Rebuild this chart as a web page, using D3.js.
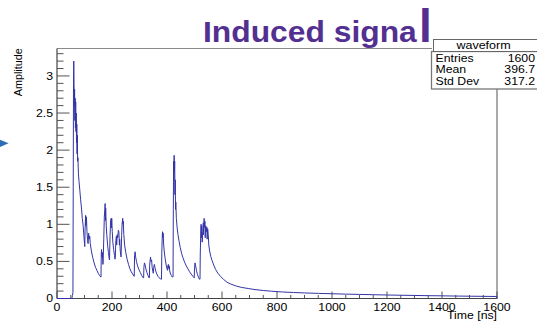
<!DOCTYPE html>
<html>
<head>
<meta charset="utf-8">
<script src="https://cdn.jsdelivr.net/npm/d3@7"></script>
<style>
  html, body { margin: 0; padding: 0; background: #fff; }
  svg { display: block; }
  text { font-family: "Liberation Sans", Arial, Helvetica, sans-serif; }
</style>
</head>
<body>
<svg id="chart" width="537" height="321"></svg>
<script>
// ---- data ----
const times = [0,54,56,58,59,60,61,62,63,64,65,66,67,68,69,70,71,72,73,74,75,76,78,80,83,86,89,92,95,98,100,101,102,104,105,107,109,111,113,115,117,119,121,125,130,135,140,145,150,155,159,160,161,162,164,165,167,168,170,172,174,175,176,177,179,181,184,187,190,191,193,195,197,198,199,201,203,206,209,211,212,214,216,217,219,221,223,225,227,228,230,232,233,235,237,239,240,241,243,246,250,255,260,265,270,275,280,281,282,284,286,289,293,298,303,308,313,315,316,318,320,323,327,331,334,336,337,340,342,344,346,349,350,351,354,356,359,363,367,371,375,378,380,381,383,384,385,386,388,391,394,397,400,402,403,405,407,408,410,413,416,419,421,422,423,424,425,426,427,428,429,430,431,432,434,437,440,444,448,453,458,464,470,476,482,488,494,498,499,500,502,504,507,511,515,518,520,521,523,524,525,526,528,530,532,533,535,536,538,539,541,543,545,546,548,550,552,555,559,564,570,577,585,594,605,618,632,650,670,695,720,750,780,820,860,900,950,1000,1050,1100,1150,1200,1250,1300,1350,1400,1450,1500,1550,1599,1600];
const amplitudes = [0,0,0.04,0.08,1.5,2.9,3.2,2.85,2.6,2.82,2.4,2.7,2.3,2.65,2.25,2.5,2.1,2.35,1.95,2.2,1.85,1.9,1.68,1.58,1.46,1.33,1.22,1.08,0.98,0.84,0.74,0.70,0.92,1.12,0.98,1.10,0.90,0.80,0.74,0.88,0.80,0.84,0.74,0.64,0.55,0.48,0.42,0.38,0.34,0.31,0.29,0.29,0.60,0.66,0.56,0.62,0.46,0.52,0.80,1.10,1.20,1.28,1.05,1.22,0.98,0.86,0.72,0.62,0.53,0.52,0.85,1.05,1.08,0.95,1.08,0.90,0.76,0.66,0.58,0.53,0.55,0.78,0.84,0.72,0.86,0.82,0.92,0.90,0.72,0.80,0.64,0.58,0.56,0.85,1.02,1.08,1.0,1.04,0.86,0.72,0.62,0.53,0.46,0.40,0.36,0.33,0.30,0.30,0.58,0.63,0.56,0.50,0.44,0.39,0.35,0.31,0.28,0.28,0.42,0.48,0.46,0.40,0.35,0.31,0.28,0.28,0.45,0.56,0.50,0.52,0.42,0.36,0.34,0.40,0.46,0.42,0.37,0.33,0.30,0.28,0.27,0.26,0.26,0.60,0.86,0.90,0.82,0.88,0.72,0.60,0.52,0.45,0.40,0.38,0.44,0.46,0.40,0.44,0.37,0.33,0.31,0.29,0.29,0.29,1.2,1.85,1.6,1.93,1.7,1.85,1.4,1.6,1.2,1.3,1.08,0.95,0.86,0.77,0.69,0.61,0.55,0.49,0.44,0.40,0.36,0.33,0.30,0.28,0.28,0.40,0.48,0.44,0.38,0.32,0.28,0.26,0.26,0.60,0.92,1.0,0.82,0.98,0.76,0.90,1.02,0.86,1.08,0.96,1.04,0.82,0.98,0.90,0.96,0.80,0.94,0.86,0.72,0.64,0.57,0.51,0.45,0.39,0.34,0.30,0.26,0.22,0.195,0.17,0.15,0.135,0.12,0.108,0.098,0.088,0.081,0.075,0.069,0.064,0.059,0.055,0.051,0.047,0.044,0.041,0.038,0.036,0.033,0.031,0.029,0.027,0];

const xTickValues = [0,200,400,600,800,1000,1200,1400,1600];
const yTickValues = [0,0.5,1,1.5,2,2.5,3];
const xDomain = [0,1600];
const yDomain = [0,3.37];

const titleText = "Induced signa";
const titleTail = "l";
const xTitle = "Time [ns]";
const yTitle = "Amplitude";
const statsName = "waveform";
const statsLabels = ["Entries","Mean","Std Dev"];
const statsValues = ["1600","396.7","317.2"];

// ---- layout ----
const svg = d3.select("#chart");
const L = 57, R = 497, T = 48.5, B = 298.5;
const SX = 1.18; // horizontal stretch of the chart lettering
const x = d3.scaleLinear().domain(xDomain).range([L, R]);
const y = d3.scaleLinear().domain(yDomain).range([B, T]);

function sText(g, px, py, str, size, anchor, fill) {
  return g.append("text")
    .attr("transform", `translate(${px},${py}) scale(${SX},1)`)
    .attr("text-anchor", anchor)
    .attr("font-size", size)
    .attr("fill", fill || "#000")
    .text(str);
}

// blue arrow marker at left edge
svg.append("path")
  .attr("d", "M-1,139.3 L8.6,143.3 L-1,147.3 Z")
  .attr("fill", "#2f6db5");

// frame top & right
svg.append("line").attr("x1", L).attr("x2", 432).attr("y1", T).attr("y2", T)
  .attr("stroke", "#8a8a8a").attr("stroke-width", 1);
svg.append("line").attr("x1", R).attr("x2", R).attr("y1", T).attr("y2", B)
  .attr("stroke", "#555").attr("stroke-width", 1);

// y axis
const gy = svg.append("g");
gy.append("line").attr("x1", L).attr("x2", L).attr("y1", T).attr("y2", B)
  .attr("stroke", "#444").attr("stroke-width", 1.2);
const yMinor = d3.range(0, 34).map(i => i / 10).filter(v => v <= yDomain[1]);
gy.selectAll("line.ymin").data(yMinor).join("line")
  .attr("x1", L).attr("x2", d => L + (yTickValues.some(t => Math.abs(t - d) < 1e-6) ? 12.5 : 6.5))
  .attr("y1", d => y(d)).attr("y2", d => y(d))
  .attr("stroke", "#555").attr("stroke-width", 1);
yTickValues.forEach(v => sText(gy, 53, y(v) + 3.6, String(v), 10.4, "end"));

// x axis
const gx = svg.append("g");
gx.append("line").attr("x1", L).attr("x2", R).attr("y1", B).attr("y2", B)
  .attr("stroke", "#444").attr("stroke-width", 1.2);
const xMinor = d3.range(0, 1601, 50);
gx.selectAll("line.xmin").data(xMinor).join("line")
  .attr("x1", d => x(d)).attr("x2", d => x(d))
  .attr("y1", B).attr("y2", d => B - (d % 200 === 0 ? 7 : 3.5))
  .attr("stroke", "#555").attr("stroke-width", 1);
xTickValues.forEach(v => sText(gx, x(v), 310.5, String(v), 10.4, "middle"));

// axis titles
sText(svg, R, 319.3, xTitle, 10.4, "end");
svg.append("text")
  .attr("transform", `translate(22,48.3) rotate(-90)`)
  .attr("text-anchor", "end")
  .attr("font-size", 10.8)
  .text(yTitle);

// waveform
const data = times.map((t, i) => ({ t, a: amplitudes[i] }));
svg.append("path")
  .datum(data)
  .attr("fill", "none")
  .attr("stroke", "#3434a6")
  .attr("stroke-width", 1)
  .attr("stroke-linejoin", "round")
  .attr("d", d3.line().x(d => x(d.t)).y(d => y(d.a)));

// title
const gt = svg.append("g").attr("transform", "translate(203,41.7) scale(1.06,1)");
gt.append("text").attr("font-size", 30).attr("font-weight", "bold")
  .attr("fill", "#532f91").text(titleText);
svg.append("text").attr("x", 419).attr("y", 41.7)
  .attr("font-size", 46).attr("font-weight", "bold")
  .attr("fill", "#532f91").text(titleTail);

// stats box
const gs = svg.append("g");
gs.append("rect").attr("x", 431.5).attr("y", 51.5).attr("width", 110).attr("height", 37.5)
  .attr("fill", "#fff").attr("stroke", "#777").attr("stroke-width", 1.3);
gs.append("rect").attr("x", 433.5).attr("y", 39.5).attr("width", 110).attr("height", 12)
  .attr("fill", "#fff").attr("stroke", "#666").attr("stroke-width", 1);
sText(gs, 483.5, 48.8, statsName, 10.6, "middle");
const rowY = [61.5, 73.3, 85];
statsLabels.forEach((s, i) => sText(gs, 435.5, rowY[i], s, 10.4, "start"));
statsValues.forEach((s, i) => sText(gs, 535, rowY[i], s, 10.4, "end"));
</script>
</body>
</html>
